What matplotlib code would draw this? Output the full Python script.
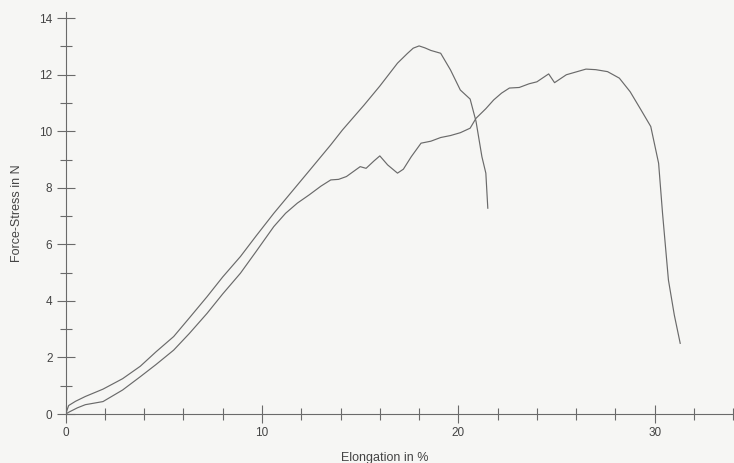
import matplotlib.pyplot as plt
import numpy as np

# first specimen (breaks near 21.5 %)
elong_a = [0, 0.15, 0.5, 1.0, 1.9, 2.9, 3.8, 4.6, 5.5, 6.3, 7.2, 8.0, 8.9, 9.7,
           10.6, 11.5, 12.4, 13.5, 14.1, 15.2, 16.0, 16.9, 17.4, 17.7, 18.0,
           18.3, 18.6, 19.1, 19.6, 20.1, 20.6, 20.9, 21.2, 21.4, 21.5]
force_a = [0, 0.3, 0.45, 0.62, 0.88, 1.25, 1.69, 2.2, 2.74, 3.4, 4.15, 4.85,
           5.57, 6.3, 7.1, 7.85, 8.6, 9.52, 10.05, 10.93, 11.6, 12.41, 12.75,
           12.94, 13.02, 12.95, 12.86, 12.76, 12.17, 11.46, 11.14, 10.35, 9.1,
           8.52, 7.28]

# second specimen (breaks near 31.3 %)
elong_b = [0, 0.2, 0.6, 1.0, 1.9, 2.9, 3.8, 4.6, 5.5, 6.3, 7.2, 8.0, 8.9, 9.7,
           10.6, 11.2, 11.8, 12.4, 13.0, 13.5, 13.9, 14.3, 15.0, 15.3, 15.7,
           16.0, 16.4, 16.9, 17.2, 17.6, 18.1, 18.6, 19.1, 19.6, 20.1, 20.6,
           20.9, 21.4, 21.8, 22.2, 22.6, 23.1, 23.6, 24.0, 24.6, 24.9, 25.5,
           26.0, 26.5, 27.0, 27.6, 28.2, 28.75, 29.3, 29.8, 30.2, 30.4, 30.7,
           31.0, 31.3]
force_b = [0, 0.08, 0.22, 0.33, 0.44, 0.85, 1.32, 1.75, 2.26, 2.85, 3.56, 4.25,
           4.98, 5.75, 6.63, 7.1, 7.46, 7.75, 8.06, 8.28, 8.3, 8.40, 8.75, 8.69,
           8.95, 9.13, 8.81, 8.52, 8.66, 9.1, 9.58, 9.65, 9.78, 9.85, 9.95,
           10.11, 10.46, 10.8, 11.11, 11.35, 11.53, 11.55, 11.68, 11.75, 12.03,
           11.72, 12.0, 12.1, 12.2, 12.18, 12.11, 11.88, 11.4, 10.76, 10.17,
           8.87, 7.10, 4.74, 3.5, 2.5]

ink = '#6a6a6a'
plt.rcParams['font.family'] = ['Liberation Sans', 'DejaVu Sans']

fig = plt.figure(figsize=(7.34, 4.63), dpi=100)
fig.patch.set_facecolor('#f6f6f4')
ax = fig.add_axes([0.0895, 0.1058, 0.9105, 0.8683])
ax.set_facecolor('#f6f6f4')

ax.plot(elong_a, force_a, color=ink, lw=0.85)
ax.plot(elong_b, force_b, color=ink, lw=0.85)

ax.set_xlim(0, 34.04)
ax.set_ylim(0, 14.22)

for s in ['top', 'right']:
    ax.spines[s].set_visible(False)
for s in ['left', 'bottom']:
    ax.spines[s].set_color(ink)
    ax.spines[s].set_linewidth(0.8)
    ax.spines[s].set_clip_on(False)

ax.set_xticks(np.arange(0, 31, 10))
ax.set_xticks(np.arange(0, 35, 2), minor=True)
ax.set_yticks(np.arange(0, 15, 2))
ax.set_yticks(np.arange(0, 15, 1), minor=True)

ax.tick_params(which='major', direction='inout', length=13, width=0.8,
               color=ink, labelcolor='#444444', labelsize=8.5, pad=3)
ax.tick_params(which='minor', direction='inout', length=8, width=0.8,
               color=ink)

ax.set_xlabel('Elongation in %', fontsize=9, color='#444444')
ax.set_ylabel('Force-Stress in N', fontsize=9, color='#444444')
ax.xaxis.set_label_coords(0.477, -0.095)
ax.yaxis.set_label_coords(-0.064, 0.5)

fig.savefig('out.png', dpi=100, facecolor=fig.get_facecolor())
